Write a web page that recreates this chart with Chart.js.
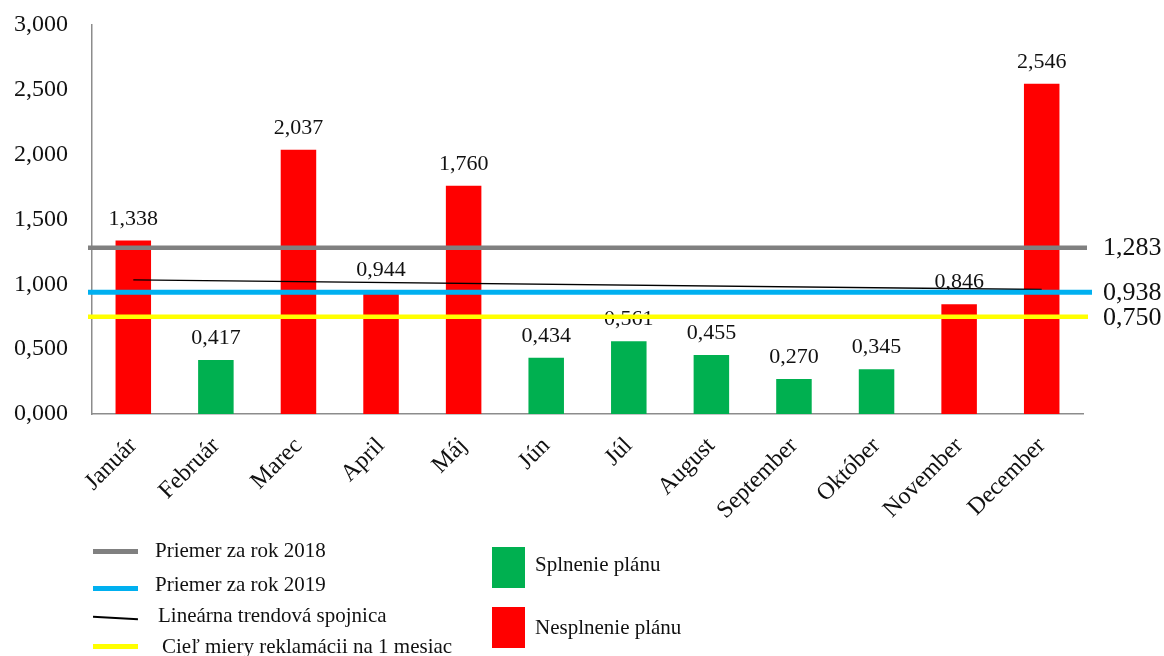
<!DOCTYPE html>
<html lang="sk">
<head>
<meta charset="utf-8">
<title>Miera reklamácií 2019</title>
<script src="https://cdn.jsdelivr.net/npm/chart.js@4.4.1/dist/chart.umd.min.js"></script>
<style>
  html, body { margin: 0; padding: 0; background: #fff; }
  .wrap { position: relative; width: 1164px; height: 656px; overflow: hidden; }
  #chart { position: absolute; left: 0; top: 0; }
  .legend { position: absolute; font-family: 'Liberation Serif', 'Times New Roman', serif; color: #111; font-size: 21px; }
  .legend .item { position: absolute; white-space: nowrap; }
  .legend .line { position: absolute; width: 45px; }
  .legend .box { position: absolute; width: 33px; height: 41px; }
</style>
</head>
<body>
<div class="wrap">
  <canvas id="chart" width="1164" height="656"></canvas>
  <div class="legend" id="legend"></div>
</div>
<script>
// Months and monthly complaint rate
const months = ['Január', 'Február', 'Marec', 'April', 'Máj', 'Jún', 'Júl', 'August', 'September', 'Október', 'November', 'December'];
const rates = [1.338, 0.417, 2.037, 0.944, 1.760, 0.434, 0.561, 0.455, 0.270, 0.345, 0.846, 2.546];

// Linear trend: value at January and December, nothing in between
const trend = [1.035, null, null, null, null, null, null, null, null, null, null, 0.960];

// Reference levels
const avg2018 = 1.283;
const avg2019 = 0.938;
const target = 0.750;

// Y axis ticks
const yTicks = [0, 0.5, 1, 1.5, 2, 2.5, 3];

const RED = '#ff0000';
const GREEN = '#00b050';
const FONT = "'Liberation Serif', 'Times New Roman', serif";
const TEXT = '#111';

const fmt = v => v.toFixed(3).replace('.', ',');

// Horizontal reference lines with their value labels on the right
const refLines = [
  { value: avg2018, color: '#808080', width: 4.5, ext: 4 },
  { value: avg2019, color: '#00b0f0', width: 5, ext: 9 },
  { value: target,  color: '#ffff00', width: 4.5, ext: 5 }
];

const overlayPlugin = {
  id: 'overlay',
  afterDatasetsDraw(chart) {
    const ctx = chart.ctx;
    const area = chart.chartArea;
    const y = chart.scales.y;

    // value labels above bars
    const meta = chart.getDatasetMeta(0);
    ctx.save();
    ctx.font = '22px ' + FONT;
    ctx.fillStyle = TEXT;
    ctx.textAlign = 'center';
    ctx.textBaseline = 'alphabetic';
    meta.data.forEach((bar, i) => {
      ctx.fillText(fmt(rates[i]), bar.x, bar.y - 16);
    });
    ctx.restore();

    // reference lines
    ctx.save();
    refLines.forEach(l => {
      const py = y.getPixelForValue(l.value);
      ctx.beginPath();
      ctx.strokeStyle = l.color;
      ctx.lineWidth = l.width;
      ctx.moveTo(area.left - 4, py);
      ctx.lineTo(area.right + l.ext, py);
      ctx.stroke();
    });
    ctx.font = '26px ' + FONT;
    ctx.fillStyle = TEXT;
    ctx.textAlign = 'left';
    ctx.textBaseline = 'middle';
    refLines.forEach(l => {
      const py = y.getPixelForValue(l.value);
      ctx.fillText(fmt(l.value), area.right + 20, py + 1);
    });
    ctx.restore();
  }
};

new Chart(document.getElementById('chart'), {
  data: {
    labels: months,
    datasets: [
      {
        type: 'bar',
        label: 'Miera reklamácií',
        data: rates,
        order: 2,
        backgroundColor: ctx => (rates[ctx.dataIndex] <= target ? GREEN : RED),
        barPercentage: 0.43,
        categoryPercentage: 1
      },
      {
        type: 'line',
        label: 'Lineárna trendová spojnica',
        data: trend,
        order: 1,
        spanGaps: true,
        borderColor: '#000',
        borderWidth: 1.3,
        pointRadius: 0,
        fill: false
      }
    ]
  },
  options: {
    responsive: false,
    animation: false,
    layout: { padding: { top: 25, right: 81, bottom: 0, left: 0 } },
    plugins: {
      legend: { display: false },
      tooltip: { enabled: false }
    },
    scales: {
      x: {
        grid: { display: false },
        border: { display: true, color: '#8c8c8c', width: 1.5 },
        afterFit: s => { s.height = 242; },
        ticks: {
          autoSkip: false,
          minRotation: 45,
          maxRotation: 45,
          padding: 10,
          color: TEXT,
          font: { family: FONT, size: 24 }
        }
      },
      y: {
        min: 0,
        max: 3,
        grid: { display: false },
        border: { display: true, color: '#8c8c8c', width: 1.5 },
        afterFit: s => { s.width = 92; s.paddingTop = 0; s.paddingBottom = 0; },
        afterBuildTicks: s => { s.ticks = yTicks.map(v => ({ value: v })); },
        ticks: {
          padding: 16,
          color: TEXT,
          font: { family: FONT, size: 24 },
          callback: v => fmt(v)
        }
      }
    }
  },
  plugins: [overlayPlugin]
});

// Legend below the chart
const legendItems = [
  { kind: 'line', color: '#808080', h: 5, x: 93, y: 549, tx: 155, ty: 538, text: 'Priemer za rok 2018' },
  { kind: 'line', color: '#00b0f0', h: 5, x: 93, y: 586, tx: 155, ty: 572, text: 'Priemer za rok 2019' },
  { kind: 'trend', x: 93, y: 617, tx: 158, ty: 603, text: 'Lineárna trendová spojnica' },
  { kind: 'line', color: '#ffff00', h: 5, x: 93, y: 644, tx: 162, ty: 634, text: 'Cieľ miery reklamácii na 1 mesiac' },
  { kind: 'box', color: GREEN, x: 492, y: 547, tx: 535, ty: 552, text: 'Splnenie plánu' },
  { kind: 'box', color: RED, x: 492, y: 607, tx: 535, ty: 615, text: 'Nesplnenie plánu' }
];

const legend = document.getElementById('legend');
legendItems.forEach(it => {
  let mark;
  if (it.kind === 'box') {
    mark = document.createElement('div');
    mark.className = 'box';
    mark.style.background = it.color;
  } else if (it.kind === 'trend') {
    mark = document.createElement('div');
    mark.className = 'line';
    mark.style.height = '1.5px';
    mark.style.background = '#000';
    mark.style.transform = 'rotate(3deg)';
  } else {
    mark = document.createElement('div');
    mark.className = 'line';
    mark.style.height = it.h + 'px';
    mark.style.background = it.color;
  }
  mark.style.left = it.x + 'px';
  mark.style.top = it.y + 'px';
  legend.appendChild(mark);

  const t = document.createElement('div');
  t.className = 'item';
  t.textContent = it.text;
  t.style.left = it.tx + 'px';
  t.style.top = it.ty + 'px';
  legend.appendChild(t);
});
</script>
</body>
</html>
